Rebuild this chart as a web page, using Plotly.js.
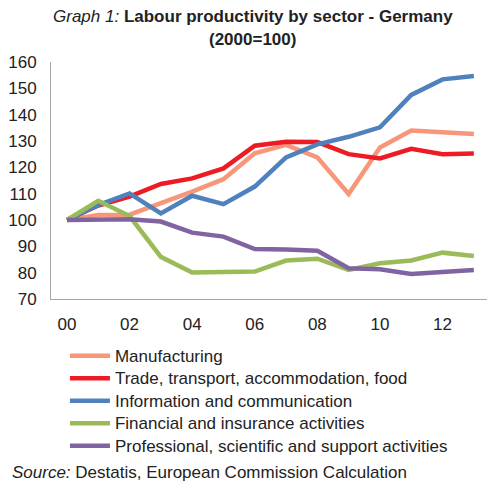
<!DOCTYPE html>
<html>
<head>
<meta charset="utf-8">
<script src="https://cdn.plot.ly/plotly-3.0.1.min.js"></script>
<style>html,body{margin:0;padding:0;background:#fff;}#chart{width:487px;height:482px;}</style>
</head>
<body>
<div id="chart"></div>
<script>
const years = [2000,2001,2002,2003,2004,2005,2006,2007,2008,2009,2010,2011,2012,2013];
const tickVals = [2000,2002,2004,2006,2008,2010,2012];
const tickLabels = ["00","02","04","06","08","10","12"];
const seriesNames = [
  "Manufacturing",
  "Trade, transport, accommodation, food",
  "Information and communication",
  "Financial and insurance activities",
  "Professional, scientific and support activities"
];
const manufacturing = [100,101.9,102,106.3,110.8,115.5,125.3,128.5,123.8,109.9,127.5,134.0,133.2,132.7];
const trade = [100,105.5,108.9,113.7,115.8,119.6,128.2,129.7,129.6,125.0,123.4,127.0,125.0,125.3];
const information = [100,105.7,110.1,102.5,109.2,106.0,112.7,123.8,128.7,131.6,135.2,147.5,153.4,154.7];
const financial = [100,107.3,101.5,86.0,80.1,80.1,80.4,84.6,85.3,81.0,83.6,84.6,87.6,86.3];
const professional = [100,100.3,100.3,99.4,95.2,93.7,89.0,88.8,88.3,81.7,81.3,79.5,80.4,81.0];
const seriesValues = [manufacturing, trade, information, financial, professional];
const colors = ["#F79679","#ED1C24","#4F81BD","#9BBB59","#8064A2"];

const traces = seriesValues.map((v,i)=>({
  x: years, y: v,
  name: '<span style="font-size:17px">' + seriesNames[i] + '</span>',
  type: "scatter", mode: "lines",
  line: {color: colors[i], width: 4.5}
}));

const layout = {
  width: 487, height: 482,
  margin: {l: 51, r: 0, t: 62, b: 183},
  paper_bgcolor: "#fff", plot_bgcolor: "#fff",
  font: {family: "Liberation Sans, Arial, sans-serif", size: 17, color: "#222"},
  xaxis: {
    range: [1999.49, 2013.42], tickvals: tickVals, ticktext: tickLabels,
    showgrid: false, zeroline: false, showline: true, linecolor: "#A6A6A6", linewidth: 1,
    ticks: "", tickfont: {size: 17}, ticklabelstandoff: 10, fixedrange: true
  },
  yaxis: {
    range: [70, 160], dtick: 10, showgrid: false, zeroline: false,
    showline: true, linecolor: "#A6A6A6", linewidth: 1, ticks: "", tickfont: {size: 17},
    ticklabelstandoff: 10, fixedrange: true
  },
  showlegend: true,
  legend: {
    x: 0.032, y: -0.171, xanchor: "left", yanchor: "top",
    font: {size: 15, color: "#222"}, tracegroupgap: 0, itemwidth: 40,
    bgcolor: "rgba(0,0,0,0)"
  },
  annotations: [
    {
      text: "<i>Graph 1:</i> <b>Labour productivity by sector - Germany</b>",
      xref: "paper", yref: "paper", x: 0.463, y: 1.19, xanchor: "center", yanchor: "middle",
      showarrow: false, font: {size: 17, color: "#222"}
    },
    {
      text: "<b>(2000=100)</b>",
      xref: "paper", yref: "paper", x: 0.463, y: 1.093, xanchor: "center", yanchor: "middle",
      showarrow: false, font: {size: 17, color: "#222"}
    },
    {
      text: "<i>Source:</i> Destatis, European Commission Calculation",
      xref: "paper", yref: "paper", x: -0.094, y: -0.731,
      xanchor: "left", yanchor: "middle", showarrow: false,
      font: {size: 17, color: "#222"}
    }
  ]
};
Plotly.newPlot("chart", traces, layout, {displayModeBar: false, staticPlot: true});
</script>
</body>
</html>
